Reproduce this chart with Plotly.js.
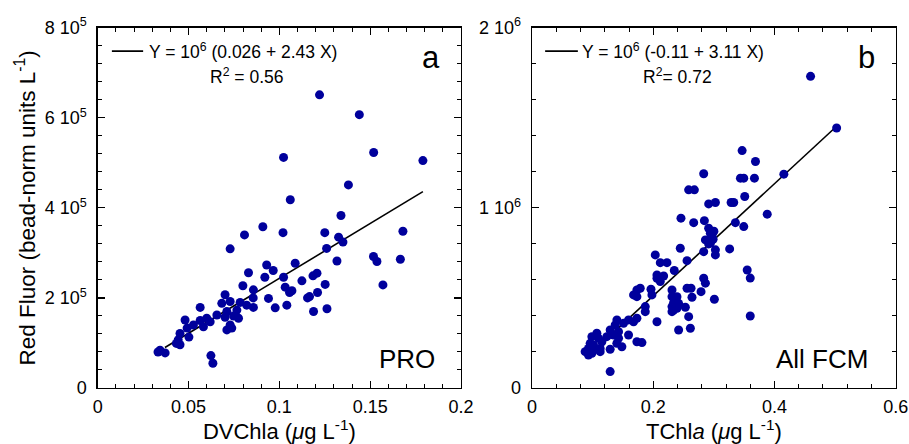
<!DOCTYPE html>
<html>
<head>
<meta charset="utf-8">
<script src="https://cdn.plot.ly/plotly-3.0.1.min.js"></script>
<style>html,body{margin:0;padding:0;background:#fff;}#chart{width:909px;height:444px;}</style>
</head>
<body>
<div id="chart"></div>
<script>
// Panel a: PRO, DVChla vs Red Fluor
const proX = [0.0808,0.0729,0.093,0.0966,0.083,0.092,0.0799,0.0857,0.0701,0.094,0.0856,0.0683,0.0729,0.0784,0.082,0.0857,0.0977,0.0564,0.0766,0.0711,0.0656,0.0748,0.0775,0.060,0.0701,0.0564,0.0619,0.0481,0.0527,0.0582,0.0729,0.0711,0.0738,0.0492,0.0453,0.0502,0.0443,0.0433,0.0453,0.0343,0.0371,0.0332,0.0623,0.0634,0.102,0.125,0.168,0.1326,0.135,0.126,0.1518,0.1537,0.1666,0.1317,0.1087,0.1023,0.1207,0.1185,0.1124,0.1252,0.157,0.1032,0.1069,0.1056,0.121,0.1166,0.1041,0.1188,0.1262,0.1221,0.144,0.1023,0.1519,0.179,0.138,0.106,0.1339,0.0909,0.1155];
const proY = [340e3,309e3,273e3,261e3,256e3,246e3,227e3,218e3,207e3,199e3,200e3,188e3,192e3,190e3,184e3,179e3,178e3,179e3,173e3,170e3,162e3,160e3,155e3,155e3,157e3,150e3,147e3,151e3,140e3,136e3,140e3,129e3,133e3,133e3,121e3,113e3,107e3,99e3,96e3,84e3,78e3,80e3,72e3,55e3,345e3,345e3,348e3,335e3,324e3,310e3,292e3,281e3,286e3,282e3,277e3,246e3,255e3,249e3,238e3,230e3,229e3,224e3,216e3,212e3,212e3,203e3,184e3,170e3,176e3,651e3,607e3,512e3,523e3,505e3,451e3,418e3,383e3,358e3,200e3];
const proFitX = [0.037, 0.179];
const proFitY = [90e3, 436e3];

// Panel b: All FCM, TChla vs Red Fluor
const fcmX = [0.2832,0.2584,0.2678,0.2914,0.3025,0.2457,0.2667,0.2843,0.2914,0.2942,0.2860,0.2987,0.2942,0.3025,0.2832,0.3025,0.2446,0.2557,0.2033,0.2116,0.2226,0.2347,0.2061,0.2061,0.2171,0.2116,0.2832,0.2860,0.1785,0.173,0.1962,0.2557,0.2623,0.2309,0.2788,0.1675,0.1730,0.1978,0.2309,0.2391,0.2639,0.3008,0.2336,0.2418,0.2309,0.2529,0.1868,0.2391,0.2336,0.1868,0.2309,0.2584,0.1730,0.2061,0.1592,0.1675,0.14,0.1510,0.1372,0.2418,0.2612,0.1289,0.1427,0.1592,0.1344,0.1069,0.0987,0.1096,0.1234,0.1427,0.1730,0.1813,0.1399,0.1152,0.0959,0.1014,0.1482,0.1124,0.0931,0.1289,0.0986,0.0876,0.0987,0.1124,0.0931,0.1289,0.4595,0.5025,0.3466,0.3686,0.4154,0.3438,0.3493,0.3669,0.3509,0.3284,0.3327,0.388,0.3355,0.3493,0.326,0.2914,0.2970,0.3000,0.355,0.36,0.36];
const fcmY = [1189e3,1100e3,1100e3,1022e3,1030e3,943e3,918e3,929e3,887e3,859e3,822e3,826e3,804e3,767e3,757e3,739e3,776e3,707e3,739e3,696e3,696e3,652e3,628e3,609e3,622e3,591e3,609e3,582e3,554e3,544e3,548e3,554e3,554e3,544e3,535e3,517e3,507e3,517e3,507e3,507e3,504e3,493e3,474e3,470e3,452e3,448e3,452e3,443e3,433e3,424e3,424e3,396e3,387e3,368e3,378e3,368e3,378e3,359e3,350e3,322e3,332e3,322e3,313e3,294e3,294e3,304e3,285e3,276e3,285e3,276e3,257e3,252e3,248e3,257e3,248e3,239e3,229e3,220e3,220e3,215e3,211e3,202e3,193e3,202e3,183e3,91e3,1730e3,1443e3,1318e3,1257e3,1187e3,1165e3,1165e3,1165e3,1063e3,1030e3,1030e3,965e3,918e3,896e3,772e3,800e3,845e3,870e3,655e3,610e3,400e3];
const fcmIntercept = -0.11, fcmSlope = 3.11; // in units of 1e6
const fcmFitX = [0.09, 0.5025];
const fcmFitY = fcmFitX.map(x => 1e6 * (fcmIntercept + fcmSlope * x));

const yTicksA = [0, 2e5, 4e5, 6e5, 8e5];
const yTextA = ['0', '2 10<sup>5</sup>', '4 10<sup>5</sup>', '6 10<sup>5</sup>', '8 10<sup>5</sup>'];
const xTicksA = [0, 0.05, 0.1, 0.15, 0.2];
const xTextA = ['0', '0.05', '0.1', '0.15', '0.2'];
const yTicksB = [0, 1e6, 2e6];
const yTextB = ['0', '1 10<sup>6</sup>', '2 10<sup>6</sup>'];
const xTicksB = [0, 0.2, 0.4, 0.6];
const xTextB = ['0', '0.2', '0.4', '0.6'];

const FONT = 'Liberation Sans, Arial, Helvetica, sans-serif';
const DOT = '#00009c';

const traces = [
  {x: proFitX, y: proFitY, xaxis: 'x', yaxis: 'y', mode: 'lines', line: {color: '#000', width: 1.6}, hoverinfo: 'skip'},
  {x: proX, y: proY, xaxis: 'x', yaxis: 'y', mode: 'markers', marker: {color: DOT, size: 9}},
  {x: fcmFitX, y: fcmFitY, xaxis: 'x2', yaxis: 'y2', mode: 'lines', line: {color: '#000', width: 1.6}, hoverinfo: 'skip'},
  {x: fcmX, y: fcmY, xaxis: 'x2', yaxis: 'y2', mode: 'markers', marker: {color: DOT, size: 9}}
];

function axis(extra) {
  return Object.assign({
    showgrid: false, zeroline: false, showline: true, linecolor: '#000', linewidth: 1.3,
    mirror: 'ticks', ticks: 'inside', ticklen: 7, tickwidth: 1.2, tickcolor: '#000',
    tickmode: 'array', tickfont: {family: FONT, size: 18, color: '#000'}
  }, extra);
}

const layout = {
  width: 909, height: 444,
  margin: {l: 0, r: 0, t: 0, b: 0},
  paper_bgcolor: '#fff', plot_bgcolor: '#fff',
  showlegend: false,
  font: {family: FONT, color: '#000'},
  xaxis: axis({domain: [0.1075, 0.5072], range: [0, 0.2], tickvals: xTicksA, ticktext: xTextA, anchor: 'y',
    ticklabelstandoff: 2,
    minor: {dtick: 0.01, ticks: 'inside', ticklen: 4, tickcolor: '#000', tickwidth: 1},
    title: {text: 'DVChla (<i>μ</i>g L<sup>-1</sup>)', font: {family: FONT, size: 22}, standoff: 3}}),
  yaxis: axis({domain: [0.1261, 0.9376], range: [0, 8e5], tickvals: yTicksA, ticktext: yTextA, anchor: 'x',
    ticklabelstandoff: 6,
    minor: {dtick: 4e4, ticks: 'inside', ticklen: 4, tickcolor: '#000', tickwidth: 1},
    title: {text: 'Red Fluor (bead-norm units L<sup>-1</sup>)', font: {family: FONT, size: 22.5}, standoff: 3}}),
  xaxis2: axis({domain: [0.5853, 0.9854], range: [0, 0.6], tickvals: xTicksB, ticktext: xTextB, anchor: 'y2',
    ticklabelstandoff: 2,
    minor: {dtick: 0.04, ticks: 'inside', ticklen: 4, tickcolor: '#000', tickwidth: 1},
    title: {text: 'TChl<i>a</i> (<i>μ</i>g L<sup>-1</sup>)', font: {family: FONT, size: 22}, standoff: 3}}),
  yaxis2: axis({domain: [0.1261, 0.9376], range: [0, 2e6], tickvals: yTicksB, ticktext: yTextB, anchor: 'x2',
    ticklabelstandoff: 6,
    minor: {dtick: 2e5, ticks: 'inside', ticklen: 4, tickcolor: '#000', tickwidth: 1}}),
  shapes: [
    {type: 'line', xref: 'x domain', yref: 'y domain', x0: 0.039, x1: 0.125, y0: 0.935, y1: 0.935, line: {color: '#000', width: 1.6}},
    {type: 'line', xref: 'x2 domain', yref: 'y2 domain', x0: 0.036, x1: 0.126, y0: 0.935, y1: 0.935, line: {color: '#000', width: 1.6}}
  ],
  annotations: [
    {xref: 'x domain', yref: 'y domain', x: 0.135, y: 0.935, xanchor: 'left', yanchor: 'middle', showarrow: false,
      text: 'Y = 10<sup>6</sup> (0.026 + 2.43 X)', font: {family: FONT, size: 17.5}},
    {xref: 'x domain', yref: 'y domain', x: 0.41, y: 0.866, xanchor: 'center', yanchor: 'middle', showarrow: false,
      text: 'R<sup>2</sup> = 0.56', font: {family: FONT, size: 17.5}},
    {xref: 'x2 domain', yref: 'y2 domain', x: 0.132, y: 0.935, xanchor: 'left', yanchor: 'middle', showarrow: false,
      text: 'Y = 10<sup>6</sup> (-0.11 + 3.11 X)', font: {family: FONT, size: 17.5}},
    {xref: 'x2 domain', yref: 'y2 domain', x: 0.399, y: 0.866, xanchor: 'center', yanchor: 'middle', showarrow: false,
      text: 'R<sup>2</sup>= 0.72', font: {family: FONT, size: 17.5}},
    {xref: 'x domain', yref: 'y domain', x: 0.948, y: 0.916, xanchor: 'right', yanchor: 'middle', showarrow: false,
      text: 'a', font: {family: FONT, size: 31}},
    {xref: 'x2 domain', yref: 'y2 domain', x: 0.948, y: 0.916, xanchor: 'right', yanchor: 'middle', showarrow: false,
      text: 'b', font: {family: FONT, size: 31}},
    {xref: 'x domain', yref: 'y domain', x: 0.934, y: 0.08, xanchor: 'right', yanchor: 'middle', showarrow: false,
      text: 'PRO', font: {family: FONT, size: 26}},
    {xref: 'x2 domain', yref: 'y2 domain', x: 0.929, y: 0.08, xanchor: 'right', yanchor: 'middle', showarrow: false,
      text: 'All FCM', font: {family: FONT, size: 26}}
  ]
};

Plotly.newPlot('chart', traces, layout, {displayModeBar: false, staticPlot: true});
</script>
</body>
</html>
